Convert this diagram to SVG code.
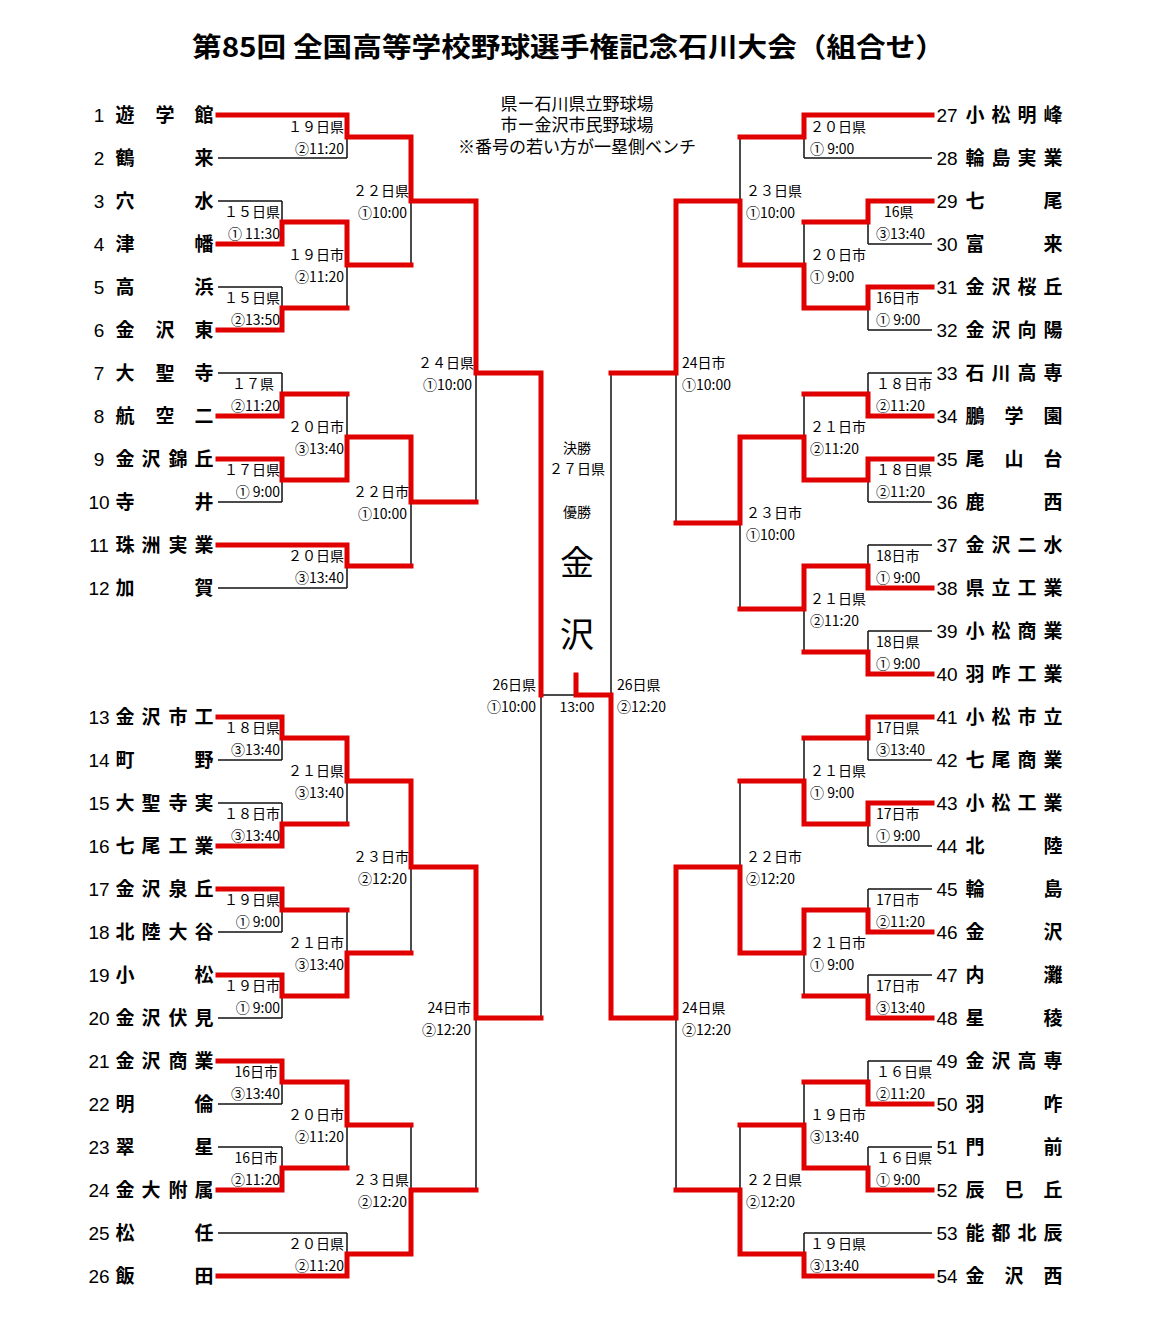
<svg xmlns="http://www.w3.org/2000/svg" width="1168" height="1336" viewBox="0 0 1168 1336">
<style>
.b{fill:none;stroke:#111;stroke-width:1.5}
.r{fill:none;stroke:#e00000;stroke-width:5;stroke-linecap:square}
text{font-family:"Noto Sans CJK JP","Noto Sans",sans-serif;fill:#000}
.t{font-size:19px;font-weight:bold;text-anchor:middle}
.n{font-family:"Liberation Sans Narrow","Liberation Sans",sans-serif;font-size:19px;text-anchor:middle}
.l{font-size:14px;text-anchor:end}
.rl{font-size:14px;text-anchor:start}
.c{font-size:14px;text-anchor:middle}
.i{font-size:17px;text-anchor:middle}
</style>
<rect width="1168" height="1336" fill="#fff"/>
<text x="192" y="57" textLength="753" lengthAdjust="spacingAndGlyphs" style="font-size:27px;font-weight:bold">第85回 全国高等学校野球選手権記念石川大会（組合せ）</text>
<g id="info">
<text x="577" y="110" class="i">県ー石川県立野球場</text>
<text x="577" y="131" class="i">市ー金沢市民野球場</text>
<text x="577" y="153" class="i">※番号の若い方が一塁側ベンチ</text>
</g>
<g id="connectors">
<path class="b" d="M218 115H347M218 158H347M218 201H282M218 244H282M218 287H282M218 330H282M218 373H282M218 416H282M218 459H282M218 502H282M218 545H347M218 588H347
M218 717H282M218 760H282M218 803H282M218 846H282M218 889H282M218 932H282M218 975H282M218 1018H282M218 1061H282M218 1104H282M218 1147H282M218 1190H282M218 1233H347M218 1276H347
M347 115V158M347 137H411M282 201V244M282 222H347M282 287V330M282 308H347M347 222V308M347 265H411M411 137V265M411 201H476
M282 373V416M282 394H347M282 459V502M282 480H347M347 394V480M347 437H411M347 545V588M347 566H411M411 437V566M411 502H476M476 201V502M476 373H541
M282 717V760M282 738H347M282 803V846M282 824H347M347 738V824M347 781H411M282 889V932M282 910H347M282 975V1018M282 996H347M347 910V996M347 953H411M411 781V953M411 867H476
M282 1061V1104M282 1082H347M282 1147V1190M282 1168H347M347 1082V1168M347 1125H411M347 1233V1276M347 1254H411M411 1125V1254M411 1190H476M476 867V1190M476 1018H541
M541 373V1018M541 695H611M611 373V1018
M932 115H804M932 158H804M932 201H868M932 244H868M932 287H868M932 330H868M932 373H868M932 416H868M932 459H868M932 502H868M932 545H868M932 588H868M932 631H868M932 674H868
M932 717H868M932 760H868M932 803H868M932 846H868M932 889H868M932 932H868M932 975H868M932 1018H868M932 1061H868M932 1104H868M932 1147H868M932 1190H868M932 1233H804M932 1276H804
M804 115V158M804 137H740M868 201V244M868 222H804M868 287V330M868 308H804M804 222V308M804 265H740M740 137V265M740 201H676
M868 373V416M868 394H804M868 459V502M868 480H804M804 394V480M804 437H740M868 545V588M868 566H804M868 631V674M868 652H804M804 566V652M804 609H740M740 437V609M740 523H676M676 201V523M676 373H611
M868 717V760M868 738H804M868 803V846M868 824H804M804 738V824M804 781H740M868 889V932M868 910H804M868 975V1018M868 996H804M804 910V996M804 953H740M740 781V953M740 867H676
M868 1061V1104M868 1082H804M868 1147V1190M868 1168H804M804 1082V1168M804 1125H740M804 1233V1276M804 1254H740M740 1125V1254M740 1190H676M676 867V1190M676 1018H611"/>
<path class="r" d="M218 115H347V137H411V201H476V373H541V695
M218 244H282V222H347V265H411
M218 330H282V308H347
M218 416H282V394H347
M218 459H282V480H347V437H411V502H476
M218 545H347V566H411
M218 717H282V738H347V781H411V867H476V1018H541
M218 846H282V824H347
M218 889H282V910H347
M218 975H282V996H347V953H411
M218 1061H282V1082H347V1125H411
M218 1190H282V1168H347
M218 1276H347V1254H411V1190H476
M576 675V695H611V1018H676V867H740V953H804V910H868V932H932
M932 115H804V137H740
M932 201H868V222H804
M932 287H868V308H804V265H740V201H676V373H611
M932 416H868V394H804
M932 459H868V480H804V437H740V523H676
M932 588H868V566H804V609H740
M932 674H868V652H804
M932 717H868V738H804
M932 803H868V824H804V781H740
M932 1018H868V996H804
M932 1104H868V1082H804
M932 1190H868V1168H804V1125H740
M932 1276H804V1254H740V1190H676"/>
</g>
<g id="labels-left" class="l">
<text x="344" y="132" class="l">１９日県</text><text x="344" y="154" class="l">②11:20</text>
<text x="280" y="217" class="l">１５日県</text><text x="280" y="239" class="l">① 11:30</text>
<text x="280" y="303" class="l">１５日県</text><text x="280" y="325" class="l">②13:50</text>
<text x="344" y="260" class="l">１９日市</text><text x="344" y="282" class="l">②11:20</text>
<text x="409" y="196" class="l">２２日県</text><text x="407" y="218" class="l">①10:00</text>
<text x="274" y="389" class="l">１７県</text><text x="280" y="411" class="l">②11:20</text>
<text x="280" y="475" class="l">１７日県</text><text x="280" y="497" class="l">① 9:00</text>
<text x="344" y="432" class="l">２０日市</text><text x="344" y="454" class="l">③13:40</text>
<text x="344" y="561" class="l">２０日県</text><text x="344" y="583" class="l">③13:40</text>
<text x="409" y="497" class="l">２２日市</text><text x="407" y="519" class="l">①10:00</text>
<text x="474" y="368" class="l">２４日県</text><text x="472" y="390" class="l">①10:00</text>
<text x="280" y="733" class="l">１８日県</text><text x="280" y="755" class="l">③13:40</text>
<text x="280" y="819" class="l">１８日市</text><text x="280" y="841" class="l">③13:40</text>
<text x="344" y="776" class="l">２１日県</text><text x="344" y="798" class="l">③13:40</text>
<text x="280" y="905" class="l">１９日県</text><text x="280" y="927" class="l">① 9:00</text>
<text x="280" y="991" class="l">１９日市</text><text x="280" y="1013" class="l">① 9:00</text>
<text x="344" y="948" class="l">２１日市</text><text x="344" y="970" class="l">③13:40</text>
<text x="409" y="862" class="l">２３日市</text><text x="407" y="884" class="l">②12:20</text>
<text x="278" y="1077" class="l">16日市</text><text x="280" y="1099" class="l">③13:40</text>
<text x="278" y="1163" class="l">16日市</text><text x="280" y="1185" class="l">②11:20</text>
<text x="344" y="1120" class="l">２０日市</text><text x="344" y="1142" class="l">②11:20</text>
<text x="344" y="1249" class="l">２０日県</text><text x="344" y="1271" class="l">②11:20</text>
<text x="409" y="1185" class="l">２３日県</text><text x="407" y="1207" class="l">②12:20</text>
<text x="471" y="1013" class="l">24日市</text><text x="471" y="1035" class="l">②12:20</text>
<text x="536" y="690" class="l">26日県</text><text x="536" y="712" class="l">①10:00</text>
</g>
<g id="labels-right" class="rl">
<text x="810" y="132" class="rl">２０日県</text><text x="810" y="154" class="rl">① 9:00</text>
<text x="884" y="217" class="rl">16県</text><text x="876" y="239" class="rl">③13:40</text>
<text x="876" y="303" class="rl">16日市</text><text x="876" y="325" class="rl">① 9:00</text>
<text x="810" y="260" class="rl">２０日市</text><text x="810" y="282" class="rl">① 9:00</text>
<text x="746" y="196" class="rl">２３日県</text><text x="746" y="218" class="rl">①10:00</text>
<text x="876" y="389" class="rl">１８日市</text><text x="876" y="411" class="rl">②11:20</text>
<text x="876" y="475" class="rl">１８日県</text><text x="876" y="497" class="rl">②11:20</text>
<text x="810" y="432" class="rl">２１日市</text><text x="810" y="454" class="rl">②11:20</text>
<text x="876" y="561" class="rl">18日市</text><text x="876" y="583" class="rl">① 9:00</text>
<text x="876" y="647" class="rl">18日県</text><text x="876" y="669" class="rl">① 9:00</text>
<text x="810" y="604" class="rl">２１日県</text><text x="810" y="626" class="rl">②11:20</text>
<text x="746" y="518" class="rl">２３日市</text><text x="746" y="540" class="rl">①10:00</text>
<text x="682" y="368" class="rl">24日市</text><text x="682" y="390" class="rl">①10:00</text>
<text x="876" y="733" class="rl">17日県</text><text x="876" y="755" class="rl">③13:40</text>
<text x="876" y="819" class="rl">17日市</text><text x="876" y="841" class="rl">① 9:00</text>
<text x="810" y="776" class="rl">２１日県</text><text x="810" y="798" class="rl">① 9:00</text>
<text x="876" y="905" class="rl">17日市</text><text x="876" y="927" class="rl">②11:20</text>
<text x="876" y="991" class="rl">17日市</text><text x="876" y="1013" class="rl">③13:40</text>
<text x="810" y="948" class="rl">２１日市</text><text x="810" y="970" class="rl">① 9:00</text>
<text x="746" y="862" class="rl">２２日市</text><text x="746" y="884" class="rl">②12:20</text>
<text x="876" y="1077" class="rl">１６日県</text><text x="876" y="1099" class="rl">②11:20</text>
<text x="876" y="1163" class="rl">１６日県</text><text x="876" y="1185" class="rl">① 9:00</text>
<text x="810" y="1120" class="rl">１９日市</text><text x="810" y="1142" class="rl">③13:40</text>
<text x="810" y="1249" class="rl">１９日県</text><text x="810" y="1271" class="rl">③13:40</text>
<text x="746" y="1185" class="rl">２２日県</text><text x="746" y="1207" class="rl">②12:20</text>
<text x="682" y="1013" class="rl">24日県</text><text x="682" y="1035" class="rl">②12:20</text>
<text x="617" y="690" class="rl">26日県</text><text x="617" y="712" class="rl">②12:20</text>
</g>
<g id="final" class="c">
<text x="577" y="453" class="c">決勝</text>
<text x="577" y="474" class="c">２７日県</text>
<text x="577" y="517" class="c">優勝</text>
<text x="577" y="575" class="c" style="font-size:34px">金</text>
<text x="577" y="647" class="c" style="font-size:34px">沢</text>
<text x="577" y="712" class="c">13:00</text>
</g>
<g id="teams-left">
<text class="n" x="99" y="122">1</text><text class="t" x="125 165 204" y="122">遊学館</text>
<text class="n" x="99" y="165">2</text><text class="t" x="125 204" y="165">鶴来</text>
<text class="n" x="99" y="208">3</text><text class="t" x="125 204" y="208">穴水</text>
<text class="n" x="99" y="251">4</text><text class="t" x="125 204" y="251">津幡</text>
<text class="n" x="99" y="294">5</text><text class="t" x="125 204" y="294">高浜</text>
<text class="n" x="99" y="337">6</text><text class="t" x="125 165 204" y="337">金沢東</text>
<text class="n" x="99" y="380">7</text><text class="t" x="125 165 204" y="380">大聖寺</text>
<text class="n" x="99" y="423">8</text><text class="t" x="125 165 204" y="423">航空二</text>
<text class="n" x="99" y="466">9</text><text class="t" x="125 151 178 204" y="466">金沢錦丘</text>
<text class="n" x="99" y="509">10</text><text class="t" x="125 204" y="509">寺井</text>
<text class="n" x="99" y="552">11</text><text class="t" x="125 151 178 204" y="552">珠洲実業</text>
<text class="n" x="99" y="595">12</text><text class="t" x="125 204" y="595">加賀</text>
<text class="n" x="99" y="724">13</text><text class="t" x="125 151 178 204" y="724">金沢市工</text>
<text class="n" x="99" y="767">14</text><text class="t" x="125 204" y="767">町野</text>
<text class="n" x="99" y="810">15</text><text class="t" x="125 151 178 204" y="810">大聖寺実</text>
<text class="n" x="99" y="853">16</text><text class="t" x="125 151 178 204" y="853">七尾工業</text>
<text class="n" x="99" y="896">17</text><text class="t" x="125 151 178 204" y="896">金沢泉丘</text>
<text class="n" x="99" y="939">18</text><text class="t" x="125 151 178 204" y="939">北陸大谷</text>
<text class="n" x="99" y="982">19</text><text class="t" x="125 204" y="982">小松</text>
<text class="n" x="99" y="1025">20</text><text class="t" x="125 151 178 204" y="1025">金沢伏見</text>
<text class="n" x="99" y="1068">21</text><text class="t" x="125 151 178 204" y="1068">金沢商業</text>
<text class="n" x="99" y="1111">22</text><text class="t" x="125 204" y="1111">明倫</text>
<text class="n" x="99" y="1154">23</text><text class="t" x="125 204" y="1154">翠星</text>
<text class="n" x="99" y="1197">24</text><text class="t" x="125 151 178 204" y="1197">金大附属</text>
<text class="n" x="99" y="1240">25</text><text class="t" x="125 204" y="1240">松任</text>
<text class="n" x="99" y="1283">26</text><text class="t" x="125 204" y="1283">飯田</text>
</g>
<g id="teams-right">
<text class="n" x="947" y="122">27</text><text class="t" x="975 1001 1027 1053" y="122">小松明峰</text>
<text class="n" x="947" y="165">28</text><text class="t" x="975 1001 1027 1053" y="165">輪島実業</text>
<text class="n" x="947" y="208">29</text><text class="t" x="975 1053" y="208">七尾</text>
<text class="n" x="947" y="251">30</text><text class="t" x="975 1053" y="251">富来</text>
<text class="n" x="947" y="294">31</text><text class="t" x="975 1001 1027 1053" y="294">金沢桜丘</text>
<text class="n" x="947" y="337">32</text><text class="t" x="975 1001 1027 1053" y="337">金沢向陽</text>
<text class="n" x="947" y="380">33</text><text class="t" x="975 1001 1027 1053" y="380">石川高専</text>
<text class="n" x="947" y="423">34</text><text class="t" x="975 1014 1053" y="423">鵬学園</text>
<text class="n" x="947" y="466">35</text><text class="t" x="975 1014 1053" y="466">尾山台</text>
<text class="n" x="947" y="509">36</text><text class="t" x="975 1053" y="509">鹿西</text>
<text class="n" x="947" y="552">37</text><text class="t" x="975 1001 1027 1053" y="552">金沢二水</text>
<text class="n" x="947" y="595">38</text><text class="t" x="975 1001 1027 1053" y="595">県立工業</text>
<text class="n" x="947" y="638">39</text><text class="t" x="975 1001 1027 1053" y="638">小松商業</text>
<text class="n" x="947" y="681">40</text><text class="t" x="975 1001 1027 1053" y="681">羽咋工業</text>
<text class="n" x="947" y="724">41</text><text class="t" x="975 1001 1027 1053" y="724">小松市立</text>
<text class="n" x="947" y="767">42</text><text class="t" x="975 1001 1027 1053" y="767">七尾商業</text>
<text class="n" x="947" y="810">43</text><text class="t" x="975 1001 1027 1053" y="810">小松工業</text>
<text class="n" x="947" y="853">44</text><text class="t" x="975 1053" y="853">北陸</text>
<text class="n" x="947" y="896">45</text><text class="t" x="975 1053" y="896">輪島</text>
<text class="n" x="947" y="939">46</text><text class="t" x="975 1053" y="939">金沢</text>
<text class="n" x="947" y="982">47</text><text class="t" x="975 1053" y="982">内灘</text>
<text class="n" x="947" y="1025">48</text><text class="t" x="975 1053" y="1025">星稜</text>
<text class="n" x="947" y="1068">49</text><text class="t" x="975 1001 1027 1053" y="1068">金沢高専</text>
<text class="n" x="947" y="1111">50</text><text class="t" x="975 1053" y="1111">羽咋</text>
<text class="n" x="947" y="1154">51</text><text class="t" x="975 1053" y="1154">門前</text>
<text class="n" x="947" y="1197">52</text><text class="t" x="975 1014 1053" y="1197">辰巳丘</text>
<text class="n" x="947" y="1240">53</text><text class="t" x="975 1001 1027 1053" y="1240">能都北辰</text>
<text class="n" x="947" y="1283">54</text><text class="t" x="975 1014 1053" y="1283">金沢西</text>
</g>
</svg>
